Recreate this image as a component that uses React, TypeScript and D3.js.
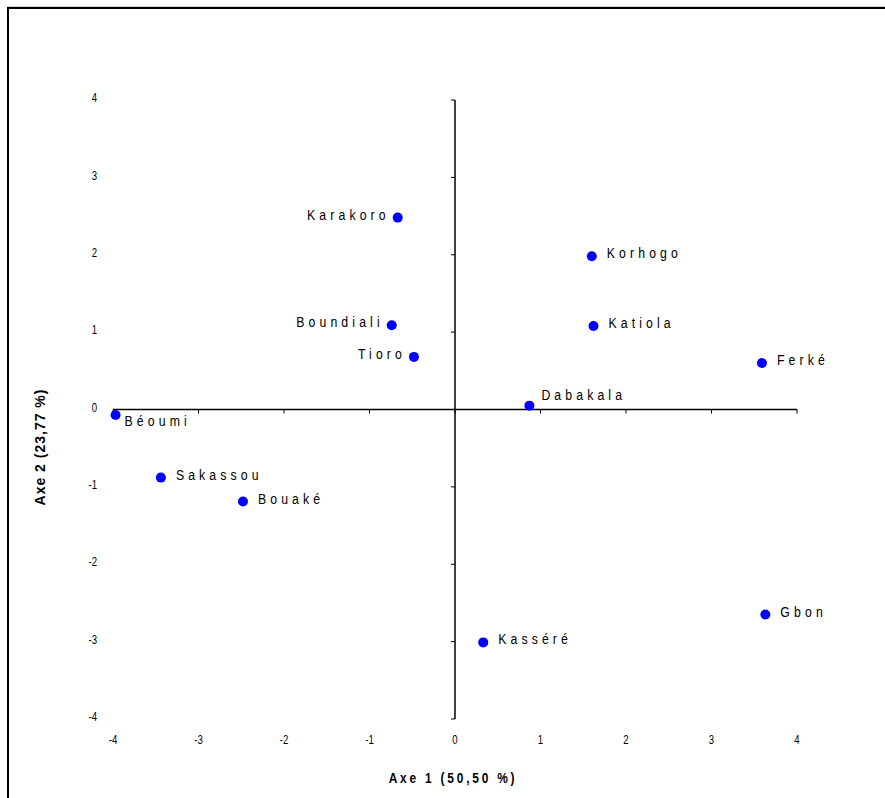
import React from "react";
import * as d3 from "d3";

const names = ["Karakoro", "Korhogo", "Boundiali", "Katiola", "Tioro", "Ferké", "Dabakala", "Béoumi", "Sakassou", "Bouaké", "Kasséré", "Gbon"];
const axis1 = [-0.67, 1.6, -0.74, 1.62, -0.48, 3.59, 0.87, -3.97, -3.44, -2.48, 0.33, 3.63];
const axis2 = [2.48, 1.98, 1.09, 1.08, 0.68, 0.6, 0.05, -0.07, -0.88, -1.19, -3.01, -2.65];
const labelSide = ["left", "right", "left", "right", "left", "right", "aboveRight", "belowRight", "right", "right", "right", "right"];
const xTicks = [-4, -3, -2, -1, 0, 1, 2, 3, 4];
const yTicks = [-4, -3, -2, -1, 0, 1, 2, 3, 4];
const xTitle = "Axe 1 (50,50 %)";
const yTitle = "Axe 2 (23,77 %)";

const W = 885;
const H = 798;

export default function App() {
  const x = d3.scaleLinear().domain([-4, 4]).range([113, 797]);
  const y = d3.scaleLinear().domain([-4, 4]).range([719, 100]);
  const x0 = x(0);
  const y0 = y(0);
  const sans = "'Liberation Sans', Arial, sans-serif";
  const SX = 0.82;

  return (
    <svg width={W} height={H} style={{ position: "absolute", left: 0, top: 0, background: "#fff" }}>
      {/* frame */}
      <line x1={7} x2={W} y1={6.5} y2={6.5} stroke="#cfcfcf" strokeWidth={1} />
      <line x1={7} x2={W} y1={8} y2={8} stroke="#000" strokeWidth={2} />
      <line x1={8} x2={8} y1={7} y2={H} stroke="#000" strokeWidth={2} />

      {/* x axis */}
      <line x1={x(-4)} x2={x(4)} y1={y0} y2={y0} stroke="#000" strokeWidth={1.5} />
      {xTicks.map((t) => (
        <line key={"xt" + t} x1={x(t)} x2={x(t)} y1={y0} y2={y0 + 4} stroke="#000" strokeWidth={1} />
      ))}
      {/* y axis */}
      <line x1={x0} x2={x0} y1={y(4)} y2={y(-4)} stroke="#000" strokeWidth={1.5} />
      {yTicks.map((t) => (
        <line key={"yt" + t} x1={x0 - 4} x2={x0} y1={y(t)} y2={y(t)} stroke="#000" strokeWidth={1} />
      ))}

      {/* tick labels */}
      {xTicks.map((t) => (
        <g key={"xl" + t} transform={`translate(${x(t)},741) scale(0.8,1)`}>
          <text x={0} y={0} textAnchor="middle" dominantBaseline="middle"
            fontFamily={sans} fontSize={12} fill="#000">{t}</text>
        </g>
      ))}
      {yTicks.map((t) => (
        <g key={"yl" + t} transform={`translate(97,${y(t) - 1}) scale(0.8,1)`}>
          <text x={0} y={0} textAnchor="end" dominantBaseline="middle"
            fontFamily={sans} fontSize={12} fill="#000">{t}</text>
        </g>
      ))}

      {/* axis titles */}
      <g transform={`translate(453,779) scale(0.85,1)`}>
        <text x={0} y={0} textAnchor="middle" dominantBaseline="middle" fontFamily={sans}
          fontWeight="bold" fontSize={14} letterSpacing={3.3} fill="#000">{xTitle}</text>
      </g>
      <text transform={`translate(41,447) rotate(-90)`} textAnchor="middle" dominantBaseline="middle"
        fontFamily={sans} fontWeight="bold" fontSize={14} letterSpacing={1} fill="#000">{yTitle}</text>

      {/* points */}
      {names.map((n, i) => {
        const px = x(axis1[i]);
        const py = y(axis2[i]);
        const side = labelSide[i];
        let tx = px + 15;
        let ty = py - 2;
        let anchor = "start";
        if (side === "left") {
          tx = px - 8;
          ty = py - 2;
          anchor = "end";
        } else if (side === "aboveRight") {
          tx = px + 12;
          ty = py - 10;
        } else if (side === "belowRight") {
          tx = px + 9;
          ty = py + 7;
        }
        return (
          <g key={n}>
            <circle cx={px} cy={py} r={5} fill="#0000ff" />
            <g transform={`translate(${tx},${ty}) scale(${SX},1)`}>
              <text x={0} y={0} textAnchor={anchor} dominantBaseline="middle" fontFamily={sans}
                fontSize={15} letterSpacing={5} fill="#000">{n}</text>
            </g>
          </g>
        );
      })}
    </svg>
  );
}
